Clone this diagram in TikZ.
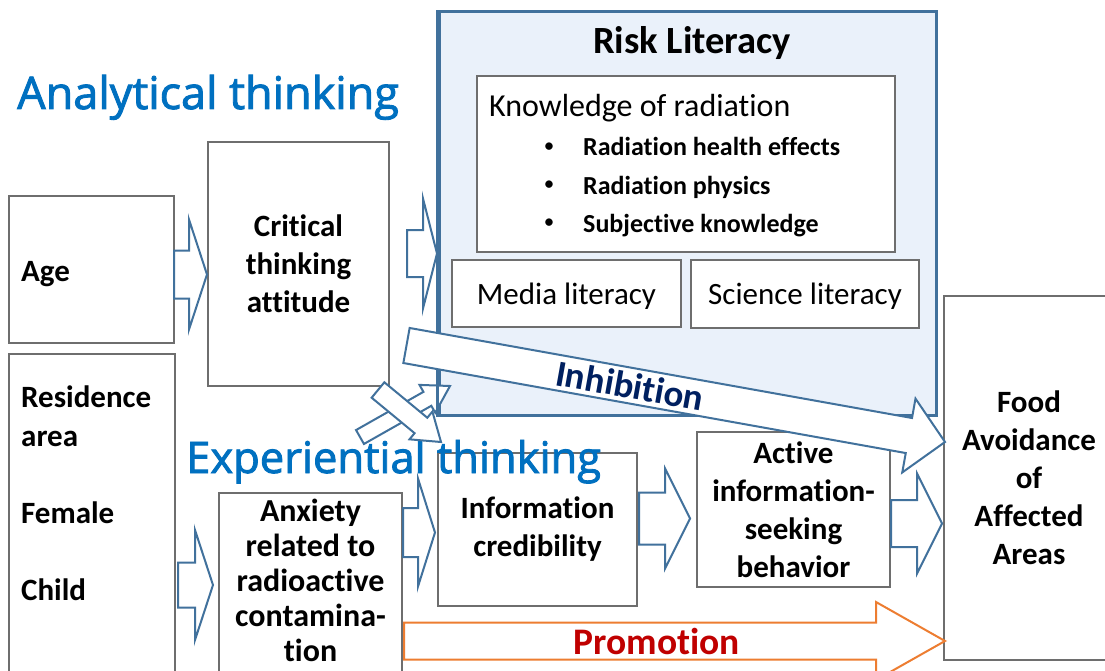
\documentclass[tikz,border=0pt]{standalone}
\usepackage{fontspec}
\setmainfont[Ligatures=NoCommon]{Carlito}
\newfontfamily\headfont[FakeBold=2, Ligatures=NoCommon]{Open Sans}
\usetikzlibrary{calc}
\definecolor{flowblue}{HTML}{41719C}
\definecolor{riskfill}{HTML}{EAF1FA}
\definecolor{headblue}{HTML}{0070C0}
\definecolor{inhibnavy}{HTML}{002060}
\definecolor{promored}{HTML}{C00000}
\definecolor{promoorange}{HTML}{ED7D31}
\definecolor{boxgray}{HTML}{6E6E6E}

% block arrow: [style]{tail}{tip}{body half width}{head half width}{head length}
\newcommand{\blockarrow}[6][]{%
  \path ($(#3)!#6!(#2)$) coordinate (headbase);
  \draw[#1] ($(#2)!#4!90:(#3)$) -- ($(headbase)!#4!90:(#3)$)
    -- ($(headbase)!#5!90:(#3)$) -- (#3)
    -- ($(headbase)!#5!-90:(#3)$) -- ($(headbase)!#4!-90:(#3)$)
    -- ($(#2)!#4!-90:(#3)$) -- cycle;
}

\begin{document}
\begin{tikzpicture}[
    x=1pt, y=-1pt,
    box/.style={draw=boxgray, line width=1.3pt, fill=white, inner sep=0pt},
    boxlabel/.style={font=\fontsize{31}{38}\selectfont\bfseries, align=center},
    heading/.style={text=headblue, anchor=base west, inner sep=0pt},
    flow/.style={draw=flowblue, line width=2pt, fill=white},
    promo/.style={draw=promoorange, line width=2pt, fill=white}
]
    \useasboundingbox (0,0) rectangle (1105,671);
    \clip (0,0) rectangle (1105,671);
    \fill[white] (0,0) rectangle (1105,671);

    % Risk literacy frame
    \node[box, draw=flowblue, line width=3pt, fill=riskfill, minimum width=497pt, minimum height=403pt] (risk) at (687.5,213.5) {};
    \node[font=\fontsize{38.5}{42}\selectfont\bfseries] (risktitle) at (692,43) {Risk Literacy};

    % Knowledge of radiation
    \node[box, minimum width=418pt, minimum height=176pt] (know) at (686,164) {};
    \node[anchor=base west, inner sep=0pt, font=\fontsize{32}{36}\selectfont] (knowtitle) at (489,117) {Knowledge of radiation};
    \foreach \txt/\yy [count=\i] in {Radiation health effects/148, Radiation physics/186, Subjective knowledge/224} {
        \node[font=\fontsize{21}{24}\selectfont] (dot\i) at (549,\yy) {\textbullet};
        \node[anchor=base west, inner sep=0pt, font=\fontsize{26}{30}\selectfont\bfseries] (item\i) at (583,\yy+8) {\txt};
    }

    % Media / science literacy
    \node[box, text depth=0pt, minimum width=229pt, minimum height=67pt, font=\fontsize{31}{36}\selectfont] (media) at (566.5,293.5) {Media literacy};
    \node[box, text depth=0pt, minimum width=228pt, minimum height=68pt, font=\fontsize{31}{36}\selectfont] (science) at (805,294) {Science literacy};

    % Left column
    \node[box, minimum width=165pt, minimum height=147pt] (age) at (91.5,269.5) {};
    \node[anchor=base west, inner sep=0pt, font=\fontsize{31}{38}\selectfont\bfseries] (agetext) at (21,281) {Age};
    \node[box, minimum width=166pt, minimum height=336pt] (demo) at (92,522) {};
    \foreach \txt/\yy [count=\i] in {Residence/397, area/436, Female/513, Child/590} {
        \node[anchor=base west, inner sep=0pt, font=\fontsize{31}{38}\selectfont\bfseries] (demo\i) at (21,\yy+10) {\txt};
    }

    % Middle and right boxes
    \node[box, boxlabel, minimum width=181pt, minimum height=244pt] (crit) at (298.5,264) {Critical\\thinking\\attitude};
    \node[box, minimum width=183pt, minimum height=197pt] (anx) at (310.5,591.5) {};
    \node[font=\fontsize{32}{35}\selectfont\bfseries, align=center] (anxtext) at (310.5,580) {Anxiety\\related to\\radioactive\\contamina-\\tion};
    \node[box, boxlabel, minimum width=199pt, minimum height=153pt] (info) at (537.5,529.5) {Information\\credibility};
    \node[box, boxlabel, minimum width=193pt, minimum height=155pt] (active) at (793.5,509.5) {Active\\information-\\seeking\\behavior};
    \node[box, boxlabel, minimum width=170pt, minimum height=364pt] (food) at (1029,478) {Food\\Avoidance\\of\\Affected\\Areas};

    % Headings
    \node[heading, font=\headfont\fontsize{45}{50}\selectfont] (analytic) at (17,109) {Analytical thinking};
    \node[heading, font=\headfont\fontsize{43.5}{48}\selectfont] (experience) at (186,473) {Experiential thinking};

    % Arrow end points
    \coordinate (agetail) at (174,274.5);   \coordinate (agetip) at (207,274.5);
    \coordinate (crittail) at (407,253.5);  \coordinate (crittip) at (437,253.5);
    \coordinate (demotail) at (178,585);    \coordinate (demotip) at (213,585);
    \coordinate (anxtail) at (403,532.5);   \coordinate (anxtip) at (435,532.5);
    \coordinate (infotail) at (639,518.5);  \coordinate (infotip) at (690,518.5);
    \coordinate (acttail) at (891,523.5);   \coordinate (acttip) at (942,523.5);
    \coordinate (upstail) at (360,437);     \coordinate (upstip) at (450,386);
    \coordinate (downtail) at (378,390);    \coordinate (downtip) at (441,442);
    \coordinate (inhtail) at (406.5,345.5); \coordinate (inhtip) at (945,442);
    \coordinate (protail) at (404,641);     \coordinate (protip) at (945,641);

    % Flow arrows
    \blockarrow[flow]{agetail}{agetip}{24pt}{55pt}{18pt}
    \blockarrow[flow]{crittail}{crittip}{23.5pt}{55pt}{14pt}
    \blockarrow[flow]{demotail}{demotip}{22.5pt}{55pt}{18pt}
    \blockarrow[flow]{anxtail}{anxtip}{24.5pt}{54pt}{17pt}
    \blockarrow[flow]{infotail}{infotip}{26pt}{50pt}{25pt}
    \blockarrow[flow]{acttail}{acttip}{23.5pt}{50pt}{25pt}

    % Crossing arrows at the corner
    \blockarrow[flow]{upstail}{upstip}{8pt}{16pt}{26pt}
    \blockarrow[flow]{downtail}{downtip}{10pt}{18pt}{26pt}
    \draw[flowblue, line width=3pt] (risk.north west) -- (risk.south west);

    % Inhibition and promotion
    \blockarrow[flow]{inhtail}{inhtip}{17.8pt}{37.5pt}{36.7pt}
    \path (inhtail) -- (inhtip) node[pos=0.415, sloped, text=inhibnavy, font=\fontsize{37}{40}\selectfont\bfseries] (inhlabel) {Inhibition};
    \blockarrow[promo]{protail}{protip}{18.5pt}{39pt}{69pt}
    \node[text=promored, font=\fontsize{37.5}{40}\selectfont\bfseries] (prolabel) at (657,641) {Promotion};

\end{tikzpicture}
\end{document}
